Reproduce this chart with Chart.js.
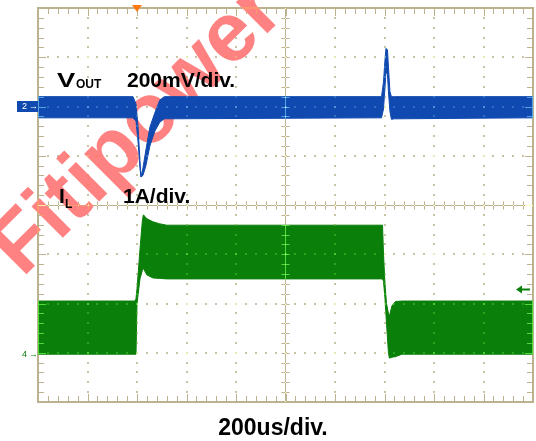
<!DOCTYPE html>
<html>
<head>
<meta charset="utf-8">
<script src="https://cdn.jsdelivr.net/npm/chart.js@4/dist/chart.umd.min.js"></script>
<style>
  html, body { margin: 0; padding: 0; background: #fff; }
  canvas { display: block; }
</style>
</head>
<body>
<canvas id="scope" width="536" height="441"></canvas>
<script>
// time in divisions (200us/div), level in divisions from screen centre
// VOUT noise band (upper / lower envelope)
const voutT   = [0, 1.92, 1.98, 2.02, 2.06, 2.08, 2.12, 2.18, 2.26, 2.36, 2.46, 2.55, 6.94, 6.98, 7.01, 7.03, 7.06, 7.08, 7.11, 7.14, 7.2, 10];
const voutTop = [2.2, 2.2, 2.05, 1.6, 0.9, 0.57, 0.75, 1.12, 1.58, 1.87, 2.13, 2.2, 2.2, 2.5, 2.95, 3.18, 3.15, 2.8, 2.3, 2.2, 2.2, 2.2];
const voutBot = [1.77, 1.77, 1.7, 1.3, 0.75, 0.57, 0.6, 0.8, 1.2, 1.5, 1.68, 1.75, 1.77, 1.95, 2.4, 2.7, 2.65, 2.3, 1.9, 1.74, 1.75, 1.77];

// IL ripple band (upper / lower envelope)
const ilT   = [0, 1.96, 1.98, 2.0, 2.06, 2.11, 2.13, 2.2, 2.32, 2.45, 2.6, 6.96, 6.98, 7.01, 7.04, 7.08, 7.10, 7.15, 7.22, 7.35, 10];
const ilTop = [-1.95, -1.95, -1.9, -1.7, -0.9, -0.3, -0.2, -0.28, -0.34, -0.38, -0.41, -0.41, -1.0, -1.6, -2.0, -2.2, -2.25, -2.05, -1.96, -1.95, -1.95];
const ilBot = [-3.03, -3.03, -3.03, -2.0, -1.5, -1.32, -1.29, -1.42, -1.48, -1.49, -1.5, -1.5, -1.55, -1.9, -2.4, -3.0, -3.11, -3.09, -3.08, -3.03, -3.03];

const xDivs = [0, 1, 2, 3, 4, 5, 6, 7, 8, 9, 10];
const yDivs = [-4, -3, -2, -1, 0, 1, 2, 3, 4];
const ch2Level = 2;      // channel 2 ground marker
const ch4Level = -3.03;  // channel 4 ground marker
const trigLevel = -1.7;  // trigger level arrow
const trigTime = 2;      // trigger position

const BLUE = '#1049b0';
const GREEN = '#0a800a';

const pts = (t, v) => t.map((x, i) => ({ x: x, y: v[i] }));

// drawn once under the traces and once on top with 'lighter'
// so the graticule shows through the traces like on the scope
function drawGrid(chart, ctx, lineColor, dotColor) {
    const xs = chart.scales.x, ys = chart.scales.y;
    const a = chart.chartArea;
    const L = Math.round(a.left), R = Math.round(a.right);
    const T = Math.round(a.top), B = Math.round(a.bottom);
    ctx.save();
    ctx.fillStyle = dotColor;
    xDivs.forEach(d => {
        if (d === 0 || d === 10 || d === 5) return;
        const px = Math.round(xs.getPixelForValue(d));
        for (let k = -19; k <= 19; k++) {
            const py = Math.round(ys.getPixelForValue(k / 5));
            ctx.fillRect(px - 1, py - 1, 2, 2);
        }
    });
    yDivs.forEach(d => {
        if (d === -4 || d === 4 || d === 0) return;
        const py = Math.round(ys.getPixelForValue(d));
        for (let k = 1; k < 50; k++) {
            const px = Math.round(xs.getPixelForValue(k / 5));
            ctx.fillRect(px - 1, py - 1, 2, 2);
        }
    });
    ctx.strokeStyle = lineColor;
    ctx.lineWidth = 1;
    const cx = Math.floor(xs.getPixelForValue(5)) + 0.5;
    const cy = Math.floor(ys.getPixelForValue(0)) + 0.5;
    ctx.beginPath();
    ctx.moveTo(cx, T); ctx.lineTo(cx, B);
    ctx.moveTo(L, cy); ctx.lineTo(R, cy);
    for (let k = 1; k < 50; k++) {
        const px = Math.round(xs.getPixelForValue(k / 5)) + 0.5;
        const len = k % 5 === 0 ? 7 : 5;
        if (k !== 25) { ctx.moveTo(px, cy - 4); ctx.lineTo(px, cy + 4); }
        ctx.moveTo(px, T + 1); ctx.lineTo(px, T + 1 + len);
        ctx.moveTo(px, B - 1); ctx.lineTo(px, B - 1 - len);
    }
    for (let k = -19; k <= 19; k++) {
        const py = Math.round(ys.getPixelForValue(k / 5)) + 0.5;
        const len = k % 5 === 0 ? 7 : 5;
        if (k !== 0) { ctx.moveTo(cx - 4, py); ctx.lineTo(cx + 4, py); }
        ctx.moveTo(L + 1, py); ctx.lineTo(L + 1 + len, py);
        ctx.moveTo(R - 1, py); ctx.lineTo(R - 1 - len, py);
    }
    ctx.stroke();
    ctx.lineWidth = 2;
    ctx.strokeRect(L, T, R - L, B - T);
    ctx.restore();
}

const scopePlugin = {
    id: 'scope',
    beforeDraw(chart) {
        const ctx = chart.ctx;
        ctx.save();
        ctx.fillStyle = '#fff';
        ctx.fillRect(0, 0, chart.width, chart.height);
        ctx.restore();
    },
    beforeDatasetsDraw(chart) {
        const ctx = chart.ctx;
        drawGrid(chart, ctx, 'rgb(118,88,92)', 'rgb(170,158,145)');
        // watermark
        ctx.save();
        ctx.translate(138, 130);
        ctx.rotate(-45 * Math.PI / 180);
        ctx.fillStyle = 'rgba(255, 40, 40, 0.58)';
        ctx.font = 'bold 84px "Liberation Sans", Arial, sans-serif';
        ctx.textAlign = 'center';
        ctx.textBaseline = 'middle';
        ctx.fillText('Fitipower', 0, 0);
        ctx.restore();
    },
    afterDatasetsDraw(chart) {
        const ctx = chart.ctx;
        const xs = chart.scales.x, ys = chart.scales.y;
        ctx.save();
        ctx.globalCompositeOperation = 'lighter';
        drawGrid(chart, ctx, 'rgb(70,90,50)', 'rgb(30,38,20)');
        ctx.restore();

        ctx.save();
        ctx.fillStyle = '#000';
        ctx.textBaseline = 'alphabetic';
        const f = '"Liberation Sans", Arial, sans-serif';
        ctx.font = 'bold 21px ' + f;
        ctx.fillText('200mV/div.', 127, 87);
        ctx.fillText('I', 59, 203);
        ctx.fillText('1A/div.', 123, 203);
        ctx.save();
        ctx.translate(57, 87);
        ctx.scale(1.3, 1);
        ctx.fillText('V', 0, 0);
        ctx.restore();
        ctx.font = 'bold 12px ' + f;
        ctx.fillText('OUT', 76, 88);
        ctx.fillText('L', 65, 208);
        ctx.font = 'bold 23px ' + f;
        ctx.textAlign = 'center';
        ctx.fillText('200us/div.', 273, 435);
        ctx.restore();

        // channel markers
        ctx.save();
        const y2 = ys.getPixelForValue(ch2Level);
        ctx.fillStyle = BLUE;
        ctx.fillRect(17, Math.round(y2) - 6, 21, 11);
        ctx.fillStyle = '#fff';
        ctx.font = '9px "Liberation Sans", Arial, sans-serif';
        ctx.textBaseline = 'middle';
        ctx.fillText('2', 22, y2);
        ctx.fillText('\u2192', 29, y2);
        const y4 = ys.getPixelForValue(ch4Level);
        ctx.fillStyle = GREEN;
        ctx.fillText('4', 22, y4);
        ctx.fillText('\u2192', 29, y4);
        // trigger level arrow
        const yt = Math.round(ys.getPixelForValue(trigLevel)) + 0.5;
        ctx.strokeStyle = GREEN;
        ctx.lineWidth = 2;
        ctx.beginPath();
        ctx.moveTo(521, yt); ctx.lineTo(530, yt);
        ctx.stroke();
        ctx.beginPath();
        ctx.moveTo(516, yt); ctx.lineTo(522, yt - 4); ctx.lineTo(522, yt + 4);
        ctx.closePath();
        ctx.fill();
        // trigger position
        const tx = xs.getPixelForValue(trigTime);
        ctx.fillStyle = '#ff7a10';
        ctx.beginPath();
        ctx.moveTo(tx - 5, 5); ctx.lineTo(tx + 5, 5); ctx.lineTo(tx, 12);
        ctx.closePath();
        ctx.fill();
        ctx.restore();
    }
};

const band = (data, color, fill) => ({
    data: data,
    borderColor: color,
    backgroundColor: color,
    borderWidth: 1,
    pointRadius: 0,
    tension: 0,
    fill: fill
});

new Chart(document.getElementById('scope'), {
    type: 'line',
    data: {
        datasets: [
            band(pts(voutT, voutTop), BLUE, '+1'),
            band(pts(voutT, voutBot), BLUE, false),
            band(pts(ilT, ilTop), GREEN, '+1'),
            band(pts(ilT, ilBot), GREEN, false)
        ]
    },
    options: {
        responsive: false,
        animation: false,
        layout: { padding: { left: 38, top: 8, right: 3, bottom: 39 } },
        plugins: { legend: { display: false }, tooltip: { enabled: false } },
        scales: {
            x: { type: 'linear', min: 0, max: 10, display: false },
            y: { type: 'linear', min: -4, max: 4, display: false }
        }
    },
    plugins: [scopePlugin]
});
</script>
</body>
</html>
